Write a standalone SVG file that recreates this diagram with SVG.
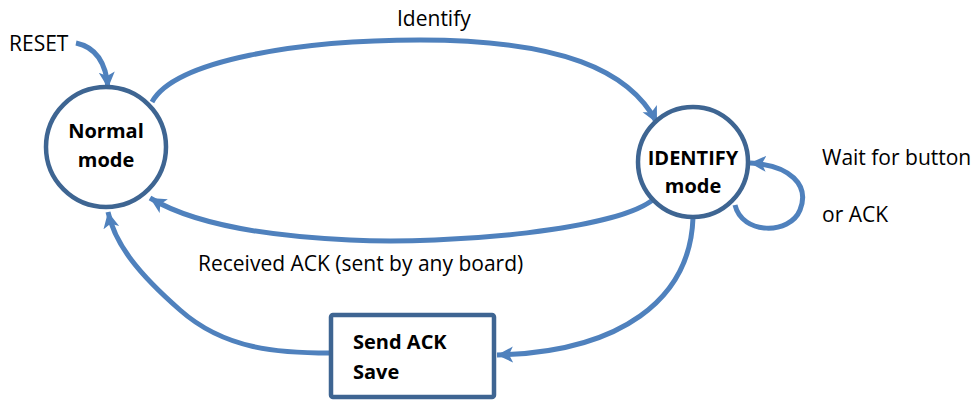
<svg xmlns="http://www.w3.org/2000/svg" width="979" height="400" viewBox="0 0 979 400">
<defs>
<style>
.node{fill:#fff;stroke:#3e6592;stroke-width:4.5}
.conn{fill:none;stroke:#4f81bd;stroke-width:5}
.lbl{font-family:"Open Sans","Liberation Sans",sans-serif;font-size:21px;fill:#000}
.bold{font-family:"Open Sans","Liberation Sans",sans-serif;font-size:20px;font-weight:bold;fill:#000}
</style>
<marker id="arr" markerUnits="userSpaceOnUse" markerWidth="18" markerHeight="18" viewBox="0 0 18 18" refX="16" refY="9" orient="auto">
<path d="M0,1 L16,9 L0,17 L4,9 Z" fill="#4f81bd"/>
</marker>
</defs>
<rect width="979" height="400" fill="#fff"/>
<g id="connectors">
<path class="conn" marker-end="url(#arr)" d="M76,43 C95,47 106,62 108,88"/>
<path class="conn" marker-end="url(#arr)" d="M152,102 C175,60 300,40 420,40 C560,40 630,70 657,123"/>
<path class="conn" marker-end="url(#arr)" d="M655,198 C620,230 450,245 350,240 C260,236 190,222 150,198"/>
<path class="conn" marker-end="url(#arr)" d="M693,218 C690,300 620,352 497,355"/>
<path class="conn" marker-end="url(#arr)" d="M330,353 C280,353 225,350 180,310 C140,275 115,245 108,212"/>
<path class="conn" marker-end="url(#arr)" d="M735,205 C742,235 790,235 800,210 C810,185 790,165 750,163"/>
</g>
<g id="normal">
<circle class="node" cx="106" cy="147" r="60"/>
<text class="bold" x="106" y="138" text-anchor="middle">Normal</text>
<text class="bold" x="106" y="167" text-anchor="middle">mode</text>
</g>
<g id="identify">
<circle class="node" cx="693" cy="162" r="55"/>
<text class="bold" x="693" y="165" text-anchor="middle">IDENTIFY</text>
<text class="bold" x="693" y="193" text-anchor="middle">mode</text>
</g>
<g id="sendack">
<rect class="node" x="331" y="315" width="163" height="82" rx="2"/>
<text class="bold" x="353" y="349">Send ACK</text>
<text class="bold" x="353" y="379">Save</text>
</g>
<g id="labels">
<text class="lbl" x="9" y="51">RESET</text>
<text class="lbl" x="397" y="26">Identify</text>
<text class="lbl" x="198" y="271">Received ACK (sent by any board)</text>
<text class="lbl" x="822" y="165">Wait for button</text>
<text class="lbl" x="822" y="222">or ACK</text>
</g>
</svg>
